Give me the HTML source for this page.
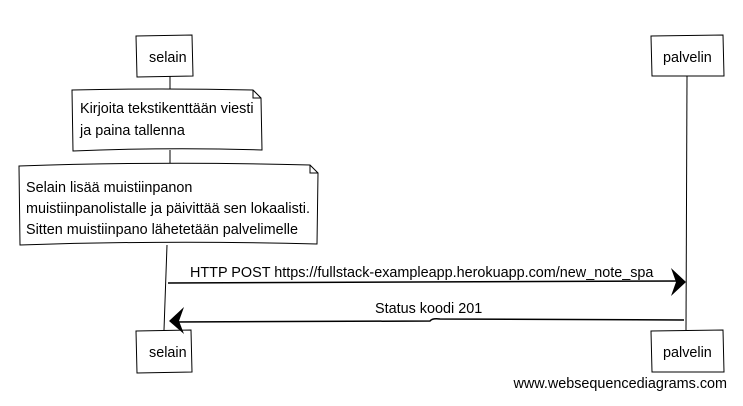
<!DOCTYPE html>
<html><head><meta charset="utf-8"><style>
body{margin:0;background:#fff;}
svg text{font-family:"Liberation Sans",sans-serif;font-size:14.4px;fill:#000;}
</style></head><body>
<svg width="743" height="401" viewBox="0 0 743 401" xmlns="http://www.w3.org/2000/svg">
<g stroke="#000" stroke-width="1" fill="none">
<path d="M170 76 L170 90 M170 150 L170 165 M167 245 L164 330"/>
<path d="M687 76 L686 330"/>
<path d="M136 36 L192 35 L193 76 L137 77 Z" fill="#fff"/>
<path d="M651 36 L723 35 L724 76 L652 76 Z" fill="#fff"/>
<path d="M136 331 L191 330 L192 372 L137 373 Z" fill="#fff"/>
<path d="M651 331 L723 330 L724 372 L652 372 Z" fill="#fff"/>
<path d="M72 90 Q160 88 253 90 L261 98 L262 150 Q170 147 73 151 Z" fill="#fff"/>
<path d="M253 90 L253 98 L261 98"/>
<path d="M19 166 Q160 161 310 165 L318 173 L317 244 Q170 240 20 245 Z" fill="#fff"/>
<path d="M310 165 L310 173 L318 173"/>
<path d="M168 283 Q430 282 683 281" stroke-width="1.5"/>
<path d="M684 320 L440 319 Q432 318 430 321 L172 322" stroke-width="1.5"/>
</g>
<path d="M686 282 L671 268 L676 282 L671 296 Z" fill="#000"/>
<path d="M169 321 L184 307 L179 321 L184 334 Z" fill="#000"/>
<text x="149" y="62">selain</text>
<text x="663" y="62">palvelin</text>
<text x="149" y="357">selain</text>
<text x="663" y="357">palvelin</text>
<text x="80" y="113">Kirjoita tekstikenttään viesti</text>
<text x="80" y="135">ja paina tallenna</text>
<text x="26" y="192">Selain lisää muistiinpanon</text>
<text x="26" y="213">muistiinpanolistalle ja päivittää sen lokaalisti.</text>
<text x="26" y="234">Sitten muistiinpano lähetetään palvelimelle</text>
<text x="190" y="277">HTTP POST https://fullstack-exampleapp.herokuapp.com/new_note_spa</text>
<text x="375" y="313">Status koodi 201</text>
<text x="727" y="388" text-anchor="end">www.websequencediagrams.com</text>
</svg>
</body></html>
